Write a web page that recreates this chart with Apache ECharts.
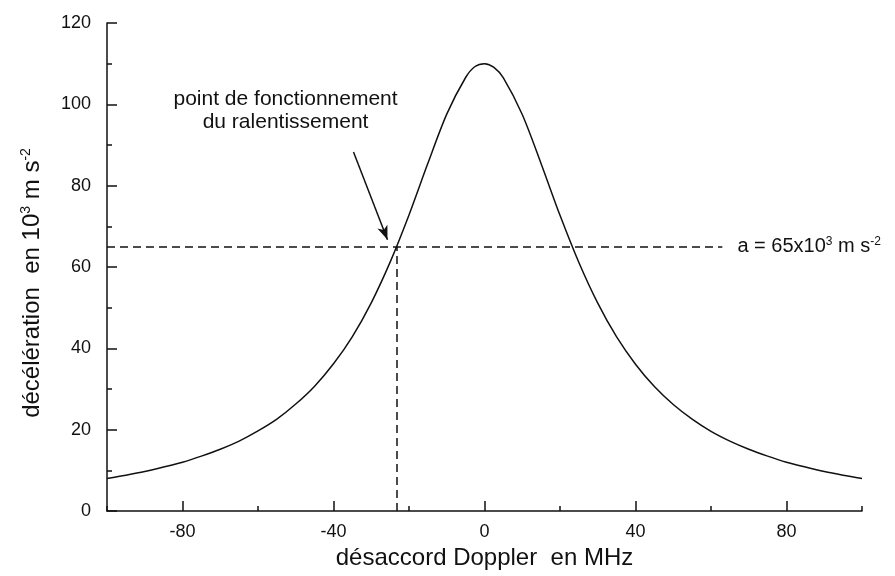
<!DOCTYPE html>
<html>
<head>
<meta charset="utf-8">
<script src="https://cdn.jsdelivr.net/npm/echarts@6/dist/echarts.min.js"></script>
<style>
  html, body { margin: 0; background: #fff; }
  #chart { width: 895px; height: 576px; }
</style>
</head>
<body>
<div id="chart"></div>
<script>
// désaccord Doppler (MHz) et décélération (10^3 m s^-2)
var detuning = [-100, -95, -90, -85, -80, -75, -70, -65, -60, -55, -50, -45, -40, -35, -30, -25, -20, -15, -10, -5, -2.5, 0,
                2.5, 5, 10, 15, 20, 25, 30, 35, 40, 45, 50, 55, 60, 65, 70, 75, 80, 85, 90, 95, 100];
var decel = [8.0, 8.8, 9.7, 10.8, 12.0, 13.5, 15.2, 17.2, 19.7, 22.6, 26.3, 30.7, 36.2, 42.9, 51.2, 61.2, 72.8, 85.5, 97.6, 106.6, 109.3, 110,
             109.1, 106.5, 97.5, 85.4, 72.7, 61.1, 51.1, 42.8, 36.1, 30.6, 26.2, 22.6, 19.6, 17.2, 15.2, 13.5, 12.0, 10.8, 9.7, 8.8, 8.0];

var xMajorTicks = [-80, -40, 0, 40, 80];
var xMinorTicks = [-100, -60, -20, 20, 60, 100];

// annotations
var refLevel = 65;          // a = 65x10^3 m s^-2
var refLineEnd = 63;        // fin du tireté horizontal
var workX = -23.3;          // point de fonctionnement
var arrowFrom = [-34.7, 88.3];
var arrowTo = [-25.7, 66.7];
var noteAt = [-52.7, 98.4];
var refLabelAt = [67, 65];

var font = 'Liberation Sans, Arial, Helvetica, sans-serif';

var chartDom = document.getElementById('chart');
var myChart = echarts.init(chartDom);
var option;

var points = detuning.map(function (x, i) { return [x, decel[i]]; });

option = {
  animation: false,
  backgroundColor: '#fff',
  grid: { left: 107, right: 33, top: 23, bottom: 65 },
  xAxis: [
    {
      type: 'value',
      min: -100,
      max: 100,
      interval: 20,
      name: 'désaccord Doppler  en MHz',
      nameLocation: 'middle',
      nameGap: 35,
      nameTextStyle: { fontFamily: font, fontSize: 24, color: '#111' },
      axisLine: { onZero: false, lineStyle: { color: '#111', width: 1.5 } },
      axisTick: { inside: true, length: 10, customValues: xMajorTicks, lineStyle: { color: '#111', width: 1.5 } },
      axisLabel: { customValues: xMajorTicks, margin: 12, fontFamily: font, fontSize: 18, color: '#111' },
      splitLine: { show: false }
    },
    {
      type: 'value',
      min: -100,
      max: 100,
      position: 'bottom',
      axisLine: { show: false, onZero: false },
      axisTick: { inside: true, length: 5, customValues: xMinorTicks, lineStyle: { color: '#111', width: 1.5 } },
      axisLabel: { show: false },
      splitLine: { show: false }
    }
  ],
  yAxis: {
    type: 'value',
    min: 0,
    max: 120,
    interval: 20,
    name: 'décélération  en 10{sup|3} m s{sup|-2}',
    nameLocation: 'middle',
    nameGap: 62,
    nameTextStyle: {
      fontFamily: font, fontSize: 24, color: '#111', lineHeight: 26,
      padding: [0, 32, 0, 0],
      rich: { sup: { fontFamily: font, fontSize: 14, lineHeight: 14, verticalAlign: 'top', color: '#111' } }
    },
    axisLine: { show: true, onZero: false, lineStyle: { color: '#111', width: 1.5 } },
    axisTick: { inside: true, length: 10, lineStyle: { color: '#111', width: 1.5 } },
    minorTick: { show: true, splitNumber: 2, length: 5, lineStyle: { color: '#111', width: 1.5 } },
    axisLabel: { margin: 16, fontFamily: font, fontSize: 18, color: '#111' },
    splitLine: { show: false }
  },
  series: [
    {
      type: 'line',
      data: points,
      smooth: 0.3,
      symbol: 'none',
      lineStyle: { color: '#111', width: 1.5 },
      markLine: {
        silent: true,
        symbol: 'none',
        label: { show: false },
        emphasis: { disabled: true },
        lineStyle: { color: '#111', width: 1.5, type: [8, 5] },
        data: [
          [{ coord: [-100, refLevel] }, { coord: [refLineEnd, refLevel] }],
          [{ coord: [workX, 0] }, { coord: [workX, refLevel] }],
          [
            { coord: arrowFrom, symbol: 'none', lineStyle: { type: 'solid', width: 1.5, color: '#111' } },
            { coord: arrowTo, symbol: 'arrow', symbolSize: [8, 14] }
          ]
        ]
      }
    }
  ]
};

option && myChart.setOption(option);

var notePx = myChart.convertToPixel({ gridIndex: 0 }, noteAt);
var refPx = myChart.convertToPixel({ gridIndex: 0 }, refLabelAt);

myChart.setOption({
  graphic: [
    {
      type: 'text',
      x: notePx[0],
      y: notePx[1],
      style: {
        text: 'point de fonctionnement\ndu ralentissement',
        fontFamily: font,
        fontSize: 21,
        lineHeight: 23,
        fill: '#111',
        align: 'center',
        verticalAlign: 'middle'
      }
    },
    {
      type: 'text',
      x: refPx[0],
      y: refPx[1],
      style: {
        text: 'a = 65x10{sup|3} m s{sup|-2}',
        fontFamily: font,
        fontSize: 20,
        lineHeight: 22,
        fill: '#111',
        align: 'left',
        verticalAlign: 'middle',
        rich: { sup: { fontFamily: font, fontSize: 12, lineHeight: 12, verticalAlign: 'top', fill: '#111' } }
      }
    }
  ]
});
</script>
</body>
</html>
